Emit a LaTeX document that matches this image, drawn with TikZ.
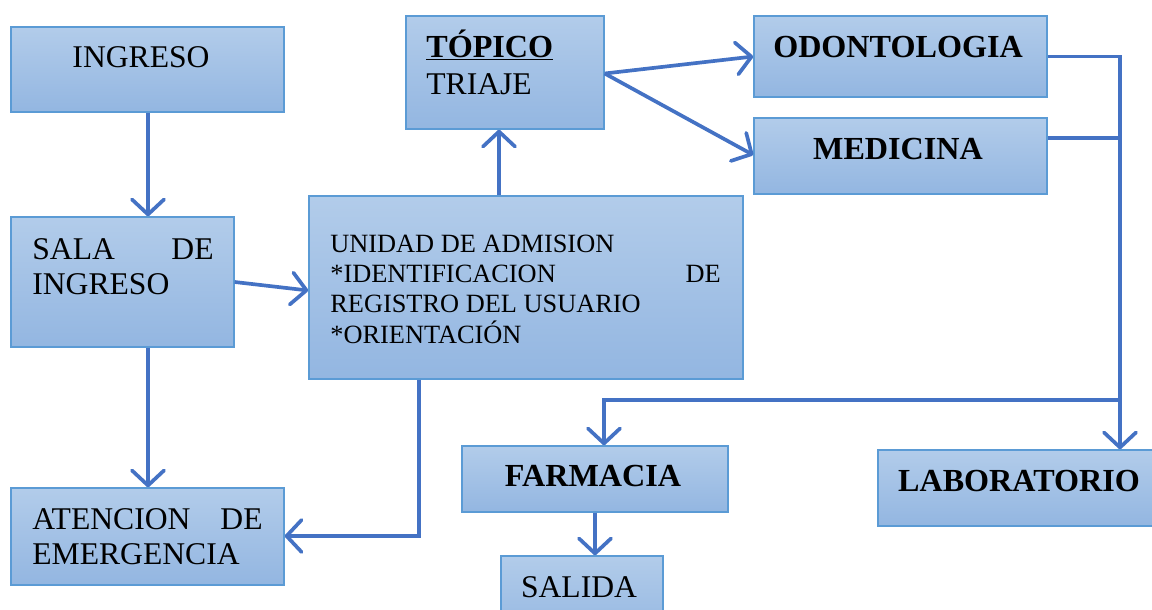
\documentclass[tikz,border=0pt]{standalone}
\usepackage{fontspec}
\setmainfont{Liberation Serif}
\usetikzlibrary{arrows.meta,fit,calc}
\definecolor{arrowblue}{HTML}{4472C4}
\definecolor{boxedge}{HTML}{5B9BD5}
\definecolor{boxtop}{HTML}{B2CCEA}
\definecolor{boxbot}{HTML}{93B6E1}
\begin{document}
\begin{tikzpicture}[x=0.02cm,y=-0.02cm,
  box/.style={draw=boxedge, line width=0.8pt, top color=boxtop, bottom color=boxbot, inner sep=0pt, fit={#1}},
  txt/.style={inner sep=0pt, font=\fontsize{18}{20}\selectfont},
  btxt/.style={inner sep=0pt, font=\fontsize{18.3}{20}\selectfont\bfseries},
  stxt/.style={inner sep=0pt, font=\fontsize{15}{17}\selectfont},
  conn/.style={draw=arrowblue, line width=2.1pt},
  arr/.style={conn, -{Straight Barb[length=3mm,width=6.4mm,round]}}]
\useasboundingbox (0,0) rectangle (1152,609);
\clip (0,0) rectangle (1152,609);
% boxes
\node[box={(11,27) (284,112)}] (ingreso) {};
\node[box={(11,217) (234,347)}] (sala) {};
\node[box={(11,488) (284,585)}] (atencion) {};
\node[box={(309,196) (743,379)}] (unidad) {};
\node[box={(406,16) (604,129)}] (topico) {};
\node[box={(754,16) (1047,97)}] (odonto) {};
\node[box={(754,118) (1047,194)}] (medicina) {};
\node[box={(462,446) (728,512)}] (farmacia) {};
\node[box={(501,556) (663,640)}] (salida) {};
\node[box={(878,450) (1165,526)}] (lab) {};
% texts
\node[txt, anchor=base] (t1) at (141,67) {INGRESO};
\node[txt, anchor=base west] (t2a) at (32,259) {SALA};
\node[txt, anchor=base east] (t2b) at (214,259) {DE};
\node[txt, anchor=base west] (t2c) at (32,294) {INGRESO};
\node[txt, anchor=base west] (t3a) at (32,529) {ATENCION};
\node[txt, anchor=base east] (t3b) at (263,529) {DE};
\node[txt, anchor=base west] (t3c) at (32,564) {EMERGENCIA};
\node[stxt, anchor=base west] (t4a) at (330,252) {UNIDAD DE ADMISION};
\node[stxt, anchor=base west] (t4b) at (330,282) {*IDENTIFICACION};
\node[stxt, anchor=base east] (t4c) at (721,282) {DE};
\node[stxt, anchor=base west] (t4d) at (330,312) {REGISTRO DEL USUARIO};
\node[stxt, anchor=base west] (t4e) at (330,343) {*ORIENTACIÓN};
\node[btxt, anchor=base west] (t5a) at (426,57) {\underline{TÓPICO}};
\node[txt, anchor=base west] (t5b) at (426,94) {TRIAJE};
\node[btxt, anchor=base] (t6) at (898,57) {ODONTOLOGIA};
\node[btxt, anchor=base] (t7) at (898,159) {MEDICINA};
\node[btxt, anchor=base] (t8) at (593,486) {FARMACIA};
\node[txt, anchor=base] (t9) at (579,597) {SALIDA};
\node[btxt, anchor=base] (t10) at (1019,491) {LABORATORIO};
% helper coordinates
\coordinate (c1) at (148,0);
\coordinate (c2) at (419,536);
\coordinate (c3) at (1120,0);
\coordinate (c4) at (604,400);
\coordinate (c5) at (595,0);
\coordinate (c6) at (499,0);
% connectors
\draw[arr] (c1 |- ingreso.south) -- (c1 |- sala.north);
\draw[arr] (c1 |- sala.south) -- (c1 |- atencion.north);
\draw[arr] (sala.east) -- ($(unidad.west)+(0,3)$);
\draw[arr] (c2 |- unidad.south) -- (c2) -- (c2 -| atencion.east);
\draw[arr] (c6 |- unidad.north) -- (c6 |- topico.south);
\draw[arr] ($(topico.east)+(0,1)$) -- (odonto.west);
\draw[arr] ($(topico.east)+(0,1)$) -- ($(medicina.west)+(0,-1)$);
\draw[conn] (odonto.east) -- (c3 |- odonto.east) -- (c3 |- medicina.east);
\draw[conn] ($(medicina.east)+(0,-18)$) -- ($(c3 |- medicina.east)+(0,-18)$);
\draw[arr] (c3 |- medicina.east) -- (c3 |- lab.north);
\draw[arr] (c3 |- c4) -- (c4) -- (c4 |- farmacia.north);
\draw[arr] (c5 |- farmacia.south) -- (c5 |- salida.north);
\end{tikzpicture}
\end{document}
